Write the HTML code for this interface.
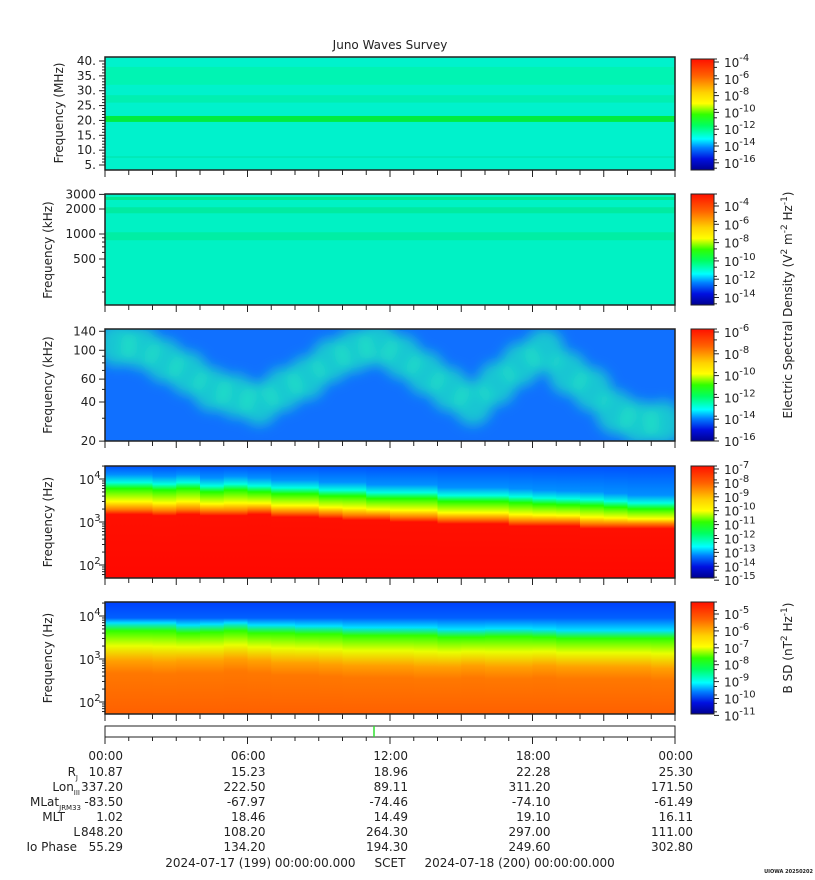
<!DOCTYPE html>
<html><head><meta charset="utf-8"><style>
body{margin:0;background:#fff}
svg{display:block;font-family:"DejaVu Sans","Liberation Sans",sans-serif}
</style></head><body>
<svg id="s" width="815" height="880" viewBox="0 0 815 880">
<defs>
<linearGradient id="cbE" x1="0" y1="0" x2="0" y2="1">
<stop offset="0" stop-color="#ff1000"/><stop offset="0.15" stop-color="#ff6000"/><stop offset="0.3" stop-color="#ffd000"/><stop offset="0.4" stop-color="#ffff00"/><stop offset="0.5" stop-color="#30ff00"/><stop offset="0.6" stop-color="#00ff60"/><stop offset="0.72" stop-color="#00ffff"/><stop offset="0.8" stop-color="#0080ff"/><stop offset="0.9" stop-color="#0010e0"/><stop offset="1" stop-color="#000090"/>
</linearGradient>
<filter id="blur" x="-20%" y="-20%" width="140%" height="140%"><feGaussianBlur stdDeviation="6"/></filter>
<clipPath id="c3"><rect x="105" y="329" width="570" height="112"/></clipPath>
</defs>
<text x="390" y="49" text-anchor="middle" font-size="12" fill="#222">Juno Waves Survey</text>
<g id="g"></g>
</svg>
<script>
// ---- data (hourly, 00:00 .. 24:00) ----
const hours = [0,1,2,3,4,5,6,7,8,9,10,11,12,13,14,15,16,17,18,19,20,21,22,23,24];
const p3Blob = [100,95,75,60,45,40,35,45,55,75,90,100,80,60,45,35,50,70,90,60,45,30,25,25,25]; // kHz
const p4Green = [6000,6000,5500,6000,5000,5500,5000,4500,4500,4000,4000,3500,3500,3500,3000,3000,3000,2800,2600,2500,2400,2200,2000,2000,1900]; // Hz
const p4Red = [1500,1500,1400,1500,1400,1400,1500,1300,1300,1200,1100,1100,1000,1000,900,900,900,800,800,800,700,700,700,700,700]; // Hz
const p5Green = [4500,4500,4500,4000,4200,4500,4000,4000,3800,3800,3500,3500,3500,3500,3200,3200,3300,3300,3200,3000,3000,3000,3000,3000,3000];
const p5Orange = [900,900,850,900,900,1000,900,800,800,750,700,700,700,650,650,700,650,650,700,650,650,650,650,600,600];
const xLabels = ['00:00','06:00','12:00','18:00','00:00'];
const rowVals = [
 ['10.87','15.23','18.96','22.28','25.30'],
 ['337.20','222.50','89.11','311.20','171.50'],
 ['-83.50','-67.97','-74.46','-74.10','-61.49'],
 ['1.02','18.46','14.49','19.10','16.11'],
 ['848.20','108.20','264.30','297.00','111.00'],
 ['55.29','134.20','194.30','249.60','302.80']];

const NS='http://www.w3.org/2000/svg';
const G=document.getElementById('g');
const defs=document.querySelector('defs');
function el(t,a,p){const e=document.createElementNS(NS,t);for(const k in a)e.setAttribute(k,a[k]);(p||G).appendChild(e);return e;}
const X0=105,X1=675;
const xh=h=>X0+(X1-X0)*h/24;
function logY(top,yRef,fRef,dec){return f=>yRef-(Math.log10(f)-Math.log10(fRef))*dec;}

const panels=[{t:57,b:170},{t:194,b:305},{t:329,b:441},{t:466,b:578},{t:602,b:714}];
// panel 1
let r=el('rect',{x:X0,y:57,width:570,height:113,fill:'#00f2cc'});

const y1=f=>165-(f-5)*104/35;
el('rect',{x:X0,y:y1(38),width:570,height:y1(32)-y1(38),fill:'#00f5a8',opacity:0.7});
el('rect',{x:X0,y:y1(28.5),width:570,height:y1(26)-y1(28.5),fill:'#00f0b0'});
el('rect',{x:X0,y:y1(21.5),width:570,height:y1(19.5)-y1(21.5),fill:'#00ec40'});
el('rect',{x:X0,y:y1(8),width:570,height:2,fill:'#00eab8'});
// panel 2
const y2=logY(194,234,1000,83);
r=el('rect',{x:X0,y:194,width:570,height:111,fill:'#00f2c4'});

el('rect',{x:X0,y:197,width:570,height:3,fill:'#00e890'});
el('rect',{x:X0,y:y2(2100),width:570,height:6,fill:'#00e898',opacity:0.8});
el('rect',{x:X0,y:y2(1050),width:570,height:8,fill:'#00ec9c',opacity:0.8});
// panel 3
const y3=logY(329,402,40,130);
r=el('rect',{x:X0,y:329,width:570,height:112,fill:'#1070ff'});

const g3=el('g',{'clip-path':'url(#c3)',filter:'url(#blur)'});
for(let i=0;i<hours.length-1;i++){
 const b=el('ellipse',{cx:(xh(hours[i])+xh(hours[i+1]))/2,cy:y3(p3Blob[i])-6,rx:20,ry:22,fill:'#20e8c0',opacity:0.7},g3);
 
 
}
// panel 4 & 5 columns
const y4=logY(466,522,1000,43), y5=logY(602,659,1000,43);
function colGrad(id,top,bot,stops){
 const lg=el('linearGradient',{id:id,x1:0,y1:top,x2:0,y2:bot,gradientUnits:'userSpaceOnUse'},defs);
 stops.forEach(s=>el('stop',{offset:Math.max(0,Math.min(1,(s[0]-top)/(bot-top))),'stop-color':s[1]},lg));
}
for(let i=0;i<hours.length-1;i++){
 const xa=xh(hours[i]),xb=xh(hours[i+1])+0.5;
 const g=y4(p4Green[i]),rd=y4(p4Red[i]);
 colGrad('g4_'+i,466,578,[[466,'#0050ff'],[g-14,'#0090ff'],[g-6,'#00ffe0'],[g,'#20ff00'],[(g+rd)/2,'#ffff00'],[rd-5,'#ff8000'],[rd,'#ff1000'],[578,'#ff0800']]);
 const c4=el('rect',{x:xa,y:466,width:xb-xa,height:112,fill:'url(#g4_'+i+')'});
 
 
 const g5=y5(p5Green[i]),o5=y5(p5Orange[i]);
 colGrad('g5_'+i,602,714,[[602,'#0040ff'],[618,'#0060ff'],[g5-8,'#00e0ff'],[g5,'#30ff00'],[(g5+o5)/2,'#e8ff00'],[o5,'#ffa000'],[o5+12,'#ff7800'],[714,'#ff6000']]);
 const c5=el('rect',{x:xa,y:602,width:xb-xa,height:112,fill:'url(#g5_'+i+')'});
 
 
}
// frames + x ticks
panels.forEach((p,k)=>{
 const f=el('rect',{x:X0,y:p.t,width:570,height:p.b-p.t,fill:'none',stroke:'#222','stroke-width':1.5});
 
 for(let h=0;h<=24;h++){const L=h%3==0?7:5;el('line',{x1:xh(h),x2:xh(h),y1:p.b,y2:p.b+L,stroke:'#222'});}
});
// y axes
function yTick(y,lab,major){el('line',{x1:X0-(major?6:3),x2:X0,y1:y,y2:y,stroke:'#222'});
 if(lab){const t=el('text',{x:X0-9,y:y+4,'text-anchor':'end','font-size':12,fill:'#222'});t.textContent=lab;}}
for(let f=5;f<=40;f+=1){yTick(y1(f),f%5==0?f+'.':'',f%5==0);}
[200,300,400,500,600,700,800,900,1000,2000,3000].forEach(f=>yTick(y2(f),[500,1000,2000,3000].includes(f)?String(f):'',[500,1000,2000,3000].includes(f)));
[20,30,40,50,60,70,80,90,100,140].forEach(f=>yTick(y3(f),[20,40,60,100,140].includes(f)?String(f):'',[20,40,60,100,140].includes(f)));
function logTicks(yf,lo,hi){for(let d=1;d<=4;d++)for(let m=1;m<10;m++){const f=m*Math.pow(10,d);if(f<lo||f>hi)continue;yTick(yf(f),'',m==1);}}
logTicks(y4,55,22000);logTicks(y5,55,22000);
function pow10Label(x,y,d,exp,fs){const t=el('text',{x:x,y:y,'font-size':fs||12,fill:'#222'});t.innerHTML=d+'<tspan dy="-6" font-size="10">'+exp+'</tspan>';return t;}
[[y4,1e4,'4'],[y4,1e3,'3'],[y4,1e2,'2'],[y5,1e4,'4'],[y5,1e3,'3'],[y5,1e2,'2']].forEach(a=>pow10Label(X0-26,a[0](a[1])+5,'10',a[2]));
// y titles
[['Frequency (MHz)',113],['Frequency (kHz)',250],['Frequency (kHz)',385],['Frequency (Hz)',522],['Frequency (Hz)',658]].forEach((a,k)=>{
 const t=el('text',{x:0,y:0,transform:'translate('+(k==0?63:52)+','+a[1]+') rotate(-90)','text-anchor':'middle','font-size':12,fill:'#222'});t.textContent=a[0];
 
});
// colorbars
const cbs=[{t:59,b:170,lab:['-4','-6','-8','-10','-12','-14','-16'],y0:62,dy:16.8},
{t:194,b:305,lab:['-4','-6','-8','-10','-12','-14'],y0:206,dy:18.3},
{t:329,b:441,lab:['-6','-8','-10','-12','-14','-16'],y0:332,dy:21.8},
{t:466,b:578,lab:['-7','-8','-9','-10','-11','-12','-13','-14','-15'],y0:469,dy:13.9},
{t:602,b:714,lab:['-5','-6','-7','-8','-9','-10','-11'],y0:614,dy:16.9}];
cbs.forEach((c,k)=>{
 const r=el('rect',{x:691,y:c.t,width:23,height:c.b-c.t,fill:'url(#cbE)',stroke:'#222'});
 
 for(let y=c.t;y<=c.b;y+=c.dy/2){el('line',{x1:714,x2:717,y1:y,y2:y,stroke:'#222'});}
 c.lab.forEach((l,i)=>{const y=c.y0+i*c.dy;el('line',{x1:714,x2:719,y1:y,y2:y,stroke:'#222'});pow10Label(724,y+5,'10',l);});
});
let t=el('text',{transform:'translate(792,305) rotate(-90)','text-anchor':'middle','font-size':12,fill:'#222'});
t.innerHTML='Electric Spectral Density (V<tspan dy="-5" font-size="9">2</tspan><tspan dy="5"> m</tspan><tspan dy="-5" font-size="9">-2</tspan><tspan dy="5"> Hz</tspan><tspan dy="-5" font-size="9">-1</tspan><tspan dy="5">)</tspan>';

t=el('text',{transform:'translate(792,648) rotate(-90)','text-anchor':'middle','font-size':12,fill:'#222'});
t.innerHTML='B SD (nT<tspan dy="-5" font-size="9">2</tspan><tspan dy="5"> Hz</tspan><tspan dy="-5" font-size="9">-1</tspan><tspan dy="5">)</tspan>';

// bottom strip
r=el('rect',{x:X0,y:726,width:570,height:11,fill:'#fff',stroke:'#222'});

el('line',{x1:374,x2:374,y1:726,y2:737,stroke:'#30e030','stroke-width':1.5});
for(let h=0;h<=24;h++){el('line',{x1:xh(h),x2:xh(h),y1:737,y2:737+(h%6==0?7:4),stroke:'#222'});}
// ephemeris table
const rowsY=[756,772,787,802,817,832,847];
xLabels.forEach((l,i)=>{const t=el('text',{x:xh(i*6)+18,y:rowsY[0]+4,'text-anchor':'end','font-size':12,fill:'#222'});t.textContent=l;});
rowVals.forEach((row,j)=>row.forEach((v,i)=>{const t=el('text',{x:xh(i*6)+18,y:rowsY[j+1]+4,'text-anchor':'end','font-size':12,fill:'#222'});t.textContent=v;}));
const names=[['R','J'],['Lon','III'],['MLat','JRM33'],['MLT',''],['L',''],['Io Phase','']];
const nameX=[78,80,81,65,80,77];
names.forEach((n,j)=>{const t=el('text',{x:nameX[j],y:rowsY[j+1]+4,'text-anchor':'end','font-size':12,fill:'#222'});
 t.innerHTML=n[0]+(n[1]?'<tspan dy="4" font-size="7">'+n[1]+'</tspan>':'');
 });
t=el('text',{x:390,y:867,'text-anchor':'middle','font-size':12,fill:'#222'});
t.textContent='2024-07-17 (199) 00:00:00.000     SCET     2024-07-18 (200) 00:00:00.000';
t.setAttribute('xml:space','preserve');t.style.whiteSpace='pre';

t=el('text',{x:813,y:873,'text-anchor':'end','font-size':5,'font-weight':'bold',fill:'#222'});t.textContent='UIOWA 20250202';

</script>
</body></html>
